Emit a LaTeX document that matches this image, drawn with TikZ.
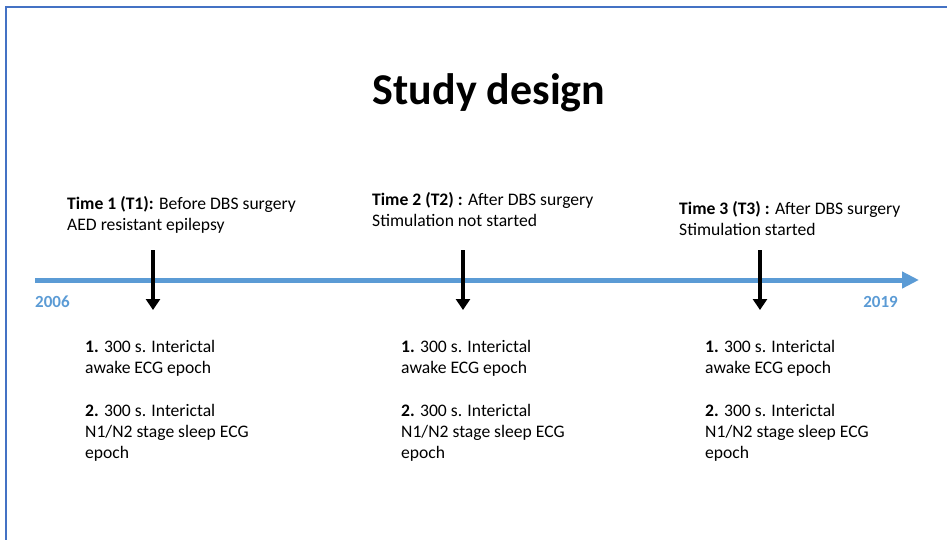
\documentclass[tikz,border=0pt]{standalone}
\usepackage{fontspec}
\setmainfont{Carlito}
\usetikzlibrary{arrows.meta}
\definecolor{lineblue}{RGB}{91,155,213}
\definecolor{frameblue}{RGB}{68,114,196}
\begin{document}
\begin{tikzpicture}[x=1pt,y=-1pt,
  lbl/.style={anchor=west,inner sep=0pt,font=\fontsize{17.6}{21}\selectfont,align=left},
  yr/.style={inner sep=0pt,font=\fontsize{17}{20}\selectfont\bfseries,text=lineblue},
  evarrow/.style={line width=4pt,-{Triangle[length=11pt,width=14pt]}}]
\useasboundingbox (0,0) rectangle (947,540);
\draw[frameblue,line width=1.2pt] (6,541) -- (6,7) -- (948,7);
\node[font=\fontsize{44}{48}\selectfont\bfseries] (title) at (489,93) {Study design};
\coordinate (tlstart) at (35,280);
\coordinate (tlend) at (919,280);
\draw[lineblue,line width=5pt,-{Triangle[length=17pt,width=16pt]}] (tlstart) -- (tlend);
\node[yr,anchor=west] (y1) at (35,302) {2006};
\node[yr,anchor=east] (y2) at (898,302) {2019};
% T1
\coordinate (a1s) at (153,250);
\coordinate (a1e) at (153,310);
\draw[evarrow] (a1s) -- (a1e);
\node[lbl] (t1) at (67,214.5) {\textbf{Time 1 (T1):} Before DBS surgery\\AED resistant epilepsy};
\node[lbl] (b1a) at (85,358) {\textbf{1.} 300 s. Interictal\\awake ECG epoch};
\node[lbl] (b1b) at (85,433) {\textbf{2.} 300 s. Interictal\\N1/N2 stage sleep ECG\\epoch};
% T2
\coordinate (a2s) at (463,250);
\coordinate (a2e) at (463,310);
\draw[evarrow] (a2s) -- (a2e);
\node[lbl] (t2) at (372,210) {\textbf{Time 2 (T2) :} After DBS surgery\\Stimulation not started};
\node[lbl] (b2a) at (401,358) {\textbf{1.} 300 s. Interictal\\awake ECG epoch};
\node[lbl] (b2b) at (401,433) {\textbf{2.} 300 s. Interictal\\N1/N2 stage sleep ECG\\epoch};
% T3
\coordinate (a3s) at (760,250);
\coordinate (a3e) at (760,310);
\draw[evarrow] (a3s) -- (a3e);
\node[lbl] (t3) at (679,219) {\textbf{Time 3 (T3) :} After DBS surgery\\Stimulation started};
\node[lbl] (b3a) at (705,358) {\textbf{1.} 300 s. Interictal\\awake ECG epoch};
\node[lbl] (b3b) at (705,433) {\textbf{2.} 300 s. Interictal\\N1/N2 stage sleep ECG\\epoch};
\end{tikzpicture}
\end{document}
